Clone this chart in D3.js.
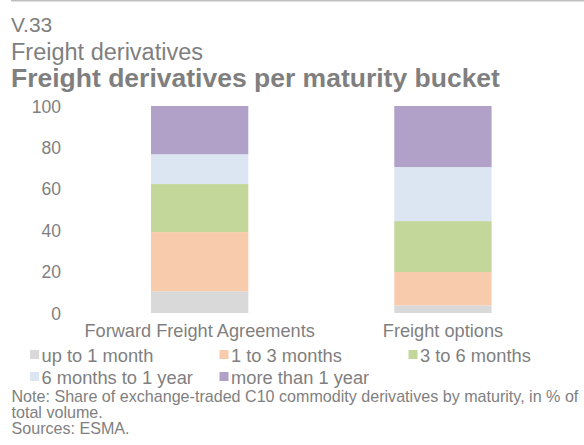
<!DOCTYPE html>
<html><head><meta charset="utf-8">
<script src="https://cdn.jsdelivr.net/npm/d3@7"></script>
<style>
body{margin:0;background:#fff;}
svg{display:block;font-family:"Liberation Sans",Arial,sans-serif;}
</style></head>
<body><svg id="c" width="584" height="445"></svg>
<script>
const categories = ["Forward Freight Agreements", "Freight options"];
const seriesNames = ["up to 1 month", "1 to 3 months", "3 to 6 months", "6 months to 1 year", "more than 1 year"];
const upTo1Month = [10.5, 3.7];
const oneTo3Months = [28.6, 16.1];
const threeTo6Months = [23.2, 24.6];
const sixMonthsTo1Year = [14.4, 26.1];
const moreThan1Year = [23.3, 29.5];
const yTicks = [0, 20, 40, 60, 80, 100];
const colors = ["#d9d9d9", "#f8cbad", "#c4d79b", "#dce6f2", "#b1a0c7"];

const seriesValues = [upTo1Month, oneTo3Months, threeTo6Months, sixMonthsTo1Year, moreThan1Year];
const rows = categories.map((c, i) => {
  const r = {cat: c};
  seriesNames.forEach((s, j) => r[s] = seriesValues[j][i]);
  return r;
});

const svg = d3.select("#c");
const txt = "#7f7f7f";

svg.append("line").attr("x1", 11).attr("x2", 584).attr("y1", 0.75).attr("y2", 0.75)
  .attr("stroke", "#bfbfbf").attr("stroke-width", 1.5);

svg.append("text").attr("x", 11).attr("y", 32).attr("fill", txt).attr("font-size", 21).text("V.33");
svg.append("text").attr("x", 11).attr("y", 59.5).attr("fill", txt).attr("font-size", 23.5).text("Freight derivatives");
svg.append("text").attr("x", 11).attr("y", 87).attr("fill", txt).attr("font-size", 26.5).attr("font-weight", "bold")
  .text("Freight derivatives per maturity bucket");

const x = d3.scaleBand().domain(categories).range([78, 564.6]).paddingInner(0.6).paddingOuter(0.3);
const y = d3.scaleLinear().domain([0, 100]).range([313, 106]);

const stack = d3.stack().keys(seriesNames)(rows);

svg.append("g").selectAll("g").data(stack).join("g")
  .attr("fill", (d, i) => colors[i])
  .selectAll("rect").data(d => d).join("rect")
  .attr("x", d => x(d.data.cat))
  .attr("width", x.bandwidth())
  .attr("y", d => y(d[1]))
  .attr("height", d => y(d[0]) - y(d[1]));

// y axis
const yAxis = svg.append("g").attr("transform", "translate(61,0)")
  .call(d3.axisLeft(y).tickValues(yTicks).tickSize(0).tickPadding(0));
yAxis.select(".domain").remove();
yAxis.selectAll("text").attr("fill", txt).attr("font-size", 17.5)
  .attr("font-family", "Liberation Sans, Arial, sans-serif").attr("dy", "0.35em");

// x axis labels
const xAxis = svg.append("g").attr("transform", "translate(0,313)")
  .call(d3.axisBottom(x).tickSize(0).tickPadding(0));
xAxis.select(".domain").remove();
xAxis.selectAll("text").attr("fill", txt).attr("font-size", 18.2)
  .attr("font-family", "Liberation Sans, Arial, sans-serif").attr("dy", null).attr("y", 23.5);

// legend
const legendCols = [30, 219.5, 408.5];
const legendRows = [350, 372];
const lg = svg.append("g");
seriesNames.forEach((s, i) => {
  const col = i % 3, row = Math.floor(i / 3);
  const g = lg.append("g").attr("transform", `translate(${legendCols[col]},${legendRows[row]})`);
  g.append("rect").attr("width", 9).attr("height", 9).attr("fill", colors[i]);
  g.append("text").attr("x", 11.5).attr("y", 11.5).attr("fill", txt).attr("font-size", 18.3).text(s);
});

// notes
const notes = ["Note: Share of exchange-traded C10 commodity derivatives by maturity, in % of",
  "total volume.", "Sources: ESMA."];
notes.forEach((n, i) => {
  svg.append("text").attr("x", 11.5).attr("y", 401.7 + i * 16.3).attr("fill", txt)
    .attr("font-size", 16.1).text(n);
});
</script></body></html>
